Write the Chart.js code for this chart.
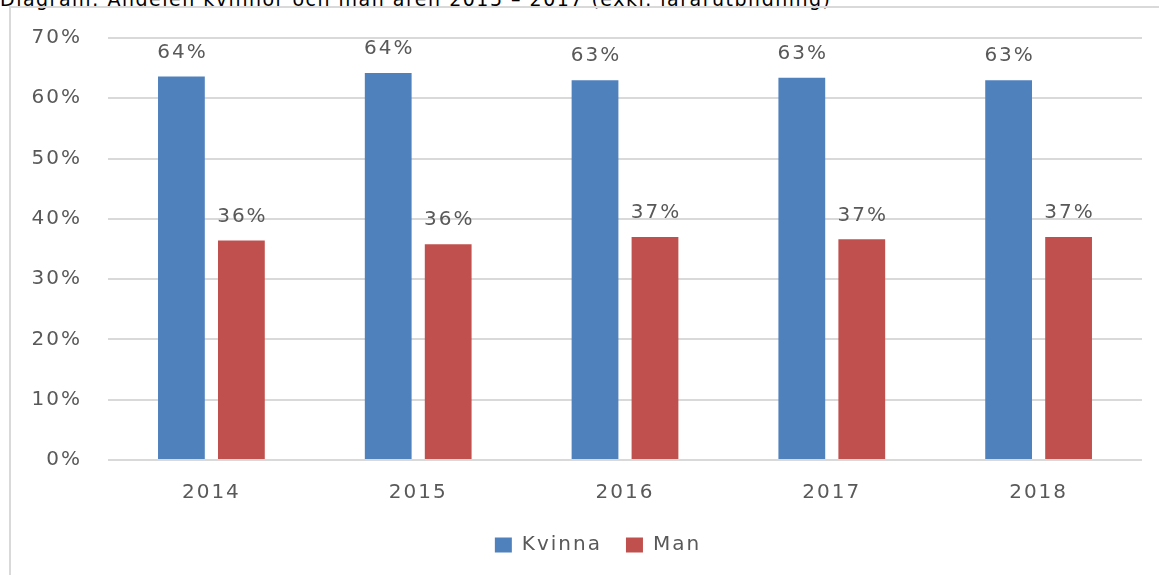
<!DOCTYPE html>
<html>
<head>
<meta charset="utf-8">
<script src="https://cdn.jsdelivr.net/npm/chart.js@4.4.0/dist/chart.umd.min.js"></script>
<style>
  html, body { margin: 0; padding: 0; background: #fff; overflow: hidden; }
  #title {
    position: absolute; left: 0; top: -12px; white-space: nowrap;
    font-family: "DejaVu Sans", Verdana, sans-serif; font-size: 19px;
    letter-spacing: 1.5px; color: #000;
  }
  #frame {
    position: absolute; left: 9px; top: 6px; width: 1200px; height: 600px;
    border-left: 2px solid #d9d9d9; border-top: 2px solid #d9d9d9;
  }
  #wrap { position: absolute; left: 0; top: 0; width: 1159px; height: 575px; }
</style>
</head>
<body>
<div id="title">Diagram: Andelen kvinnor och män åren 2015 – 2017 (exkl. lärarutbildning)</div>
<div id="frame"></div>
<div id="wrap"><canvas id="myChart"></canvas></div>
<script>
const years = ['2014', '2015', '2016', '2017', '2018'];
const kvinna = [63.6, 64.2, 63.0, 63.4, 63.0];
const man = [36.4, 35.8, 37.0, 36.6, 37.0];
const yTicks = [0, 10, 20, 30, 40, 50, 60, 70];

const textColor = '#595959';
const gridColor = '#d9d9d9';
const fontFamily = '"DejaVu Sans", Verdana, sans-serif';

// wide Verdana-like text: canvas letter spacing (reset whenever canvas resizes)
const spacing = {
  id: 'spacing',
  beforeUpdate(chart) { chart.ctx.letterSpacing = '2px'; },
  beforeDraw(chart) { chart.ctx.letterSpacing = '2px'; },
  // legend sits centred under the plot, not under the whole canvas
  afterLayout(chart) {
    chart.legend.left += 27;
    chart.legend.right += 27;
  }
};

// draws the "64%" style labels above each bar
const barLabels = {
  id: 'barLabels',
  afterDatasetsDraw(chart) {
    const ctx = chart.ctx;
    ctx.save();
    ctx.font = '20px ' + fontFamily;
    ctx.fillStyle = textColor;
    ctx.textAlign = 'center';
    ctx.textBaseline = 'middle';
    chart.data.datasets.forEach((ds, i) => {
      chart.getDatasetMeta(i).data.forEach((bar, j) => {
        ctx.fillText(Math.round(ds.data[j]) + '%', bar.x + 1, bar.y - 24);
      });
    });
    ctx.restore();
  }
};

const data = {
  labels: years,
  datasets: [{
    label: 'Kvinna',
    data: kvinna,
    backgroundColor: '#4f81bd',
    borderWidth: 0
  }, {
    label: 'Man',
    data: man,
    backgroundColor: '#c0504d',
    borderWidth: 0
  }]
};

const config = {
  type: 'bar',
  data: data,
  options: {
    responsive: false,
    animation: false,
    datasets: {
      bar: {
        categoryPercentage: 0.58,
        barPercentage: 0.78
      }
    },
    layout: {
      padding: { left: 0, right: 17, top: 31, bottom: 10 }
    },
    plugins: {
      legend: {
        position: 'bottom',
        labels: {
          boxWidth: 17,
          boxHeight: 15,
          padding: 24,
          color: textColor,
          font: { family: fontFamily, size: 20 }
        }
      },
      tooltip: { enabled: false }
    },
    scales: {
      y: {
        min: 0,
        max: 70,
        afterFit: (s) => { s.width = 108; },
        afterBuildTicks: (s) => { s.ticks = yTicks.map(v => ({ value: v })); },
        border: { display: false },
        grid: { color: gridColor, lineWidth: 2, drawTicks: false },
        ticks: {
          padding: 26,
          color: textColor,
          font: { family: fontFamily, size: 20 },
          callback: (v) => v + '%'
        }
      },
      x: {
        afterFit: (s) => { s.height = 51; },
        border: { display: false },
        grid: { display: false, drawTicks: false },
        ticks: {
          padding: 21,
          color: textColor,
          font: { family: fontFamily, size: 20 }
        }
      }
    }
  },
  plugins: [spacing, barLabels]
};

const canvas = document.getElementById('myChart');
canvas.width = 1159;
canvas.height = 575;
const myChart = new Chart(canvas, config);
</script>
</body>
</html>
